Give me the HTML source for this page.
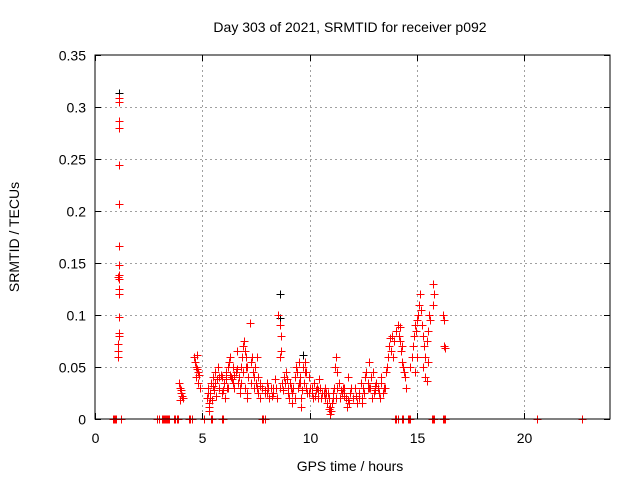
<!DOCTYPE html>
<html><head><meta charset="utf-8"><style>
body{margin:0;background:#fff;}
svg text{font-family:"Liberation Sans",sans-serif;font-size:14px;fill:#000;}
</style></head><body>
<svg id="chart" width="640" height="480" xmlns="http://www.w3.org/2000/svg">
<rect width="640" height="480" fill="#fff"/>
<g id="grid"></g>
<g id="blackpts"></g>
<g id="redpts"></g>
<rect x="95" y="55" width="515" height="364" fill="none" stroke="#000" stroke-width="1"/>
<g id="ticks"></g>
<text x="350" y="32" text-anchor="middle">Day 303 of 2021, SRMTID for receiver p092</text>
<text x="350" y="471" text-anchor="middle">GPS time / hours</text>
<text x="19" y="237" text-anchor="middle" transform="rotate(-90 19 237)">SRMTID / TECUs</text>
</svg>
<script>
const xTicks=[0,5,10,15,20];
const yTicks=[0,0.05,0.1,0.15,0.2,0.25,0.3,0.35];
const yTickLabels=["0","0.05","0.1","0.15","0.2","0.25","0.3","0.35"];
const redT=[0.85,0.9,0.95,1.0,1.2,2.9,3.0,3.1,3.15,3.2,3.25,3.3,3.35,3.4,3.45,3.7,3.75,3.8,3.85,4.4,4.45,4.5,5.1,5.4,5.45,5.9,5.95,7.8,7.85,7.9,14.0,14.05,14.1,14.3,14.35,14.6,14.65,14.7,15.7,15.75,15.8,16.2,16.25,16.3,20.6,22.7,
1.1,1.1,1.1,1.1,1.1,1.1,1.1,1.1,1.1,1.1,1.1,1.1,1.1,1.1,1.1,1.05,1.05,1.05,1.05,
3.9,3.95,4.0,4.0,4.05,4.1,3.95,
4.6,4.65,4.7,4.75,4.8,4.85,4.7,4.8,4.9,4.75,
5.2,5.25,5.3,5.35,5.4,5.45,5.5,5.55,5.6,5.3,
5.7,5.75,5.8,5.85,5.9,6.0,6.05,6.1,6.15,6.2,
6.25,6.3,6.35,6.4,6.45,6.5,6.55,6.6,6.65,6.7,6.75,6.8,
6.85,6.9,6.95,7.0,7.05,7.1,7.15,7.2,7.25,7.3,7.35,7.4,7.0,7.1,
7.5,7.6,7.7,7.8,7.9,8.0,8.1,8.2,8.3,8.4,8.5,7.6,7.45,7.55,
8.55,8.6,8.65,8.6,8.65,8.7,8.75,8.8,8.6,
8.9,9.0,9.05,9.1,9.2,9.3,9.35,9.4,9.45,9.5,9.55,9.6,9.7,9.75,9.8,9.85,9.9,9.95,9.2,9.6,
10.0,10.1,10.2,10.3,10.4,10.45,10.5,10.6,10.7,10.8,10.9,10.95,11.0,10.85,10.7,
11.05,11.1,11.15,11.2,11.25,11.3,11.35,11.4,11.5,11.6,11.7,11.8,11.9,12.0,12.1,12.2,12.3,12.4,12.5,12.6,12.65,12.7,12.8,12.9,13.0,13.1,13.2,13.3,13.4,12.45,11.75,12.75,12.95,13.35,
13.5,13.55,13.6,13.65,13.7,13.75,13.8,13.85,13.9,13.95,
14.05,14.1,14.15,14.2,14.25,14.3,14.35,14.4,14.45,14.5,14.3,14.2,
14.7,14.75,14.8,14.85,14.9,14.95,15.0,15.05,15.1,15.15,15.2,15.25,15.3,15.35,15.4,15.45,15.5,15.55,15.6,15.4,15.45,15.3,15.5,15.0,14.9,
15.75,15.8,15.75,16.2,16.25,16.25,16.3,
5.25,5.35,5.5,5.65,5.8,5.95,6.1,6.3,6.45,6.6,6.75,6.9,7.05,7.25,7.4,7.55,7.7,7.9,8.05,8.25,8.45,8.85,9.0,9.15,9.3,9.5,9.65,9.8,9.95,10.1,10.25,10.4,10.55,10.75,10.9,11.1,11.3,11.45,11.6,11.8,11.95,12.15,12.3,12.55,12.7,12.85,13.05,13.25,13.45,
5.3,5.6,5.9,6.2,6.5,6.8,7.1,7.4,7.7,8.0,8.3,8.95,9.25,9.55,9.85,10.15,10.35,10.65,10.95,11.25,11.55,11.85,12.15,12.45,12.75,13.05,13.35];
const redV=[0,0,0,0,0,0,0,0,0,0,0,0,0,0,0,0,0,0,0,0,0,0,0,0,0,0,0,0,0,0,0,0,0,0,0,0,0,0,0,0,0,0,0,0,0,0,
0.309,0.305,0.287,0.28,0.244,0.207,0.166,0.148,0.138,0.135,0.125,0.12,0.098,0.083,0.08,0.072,0.065,0.06,0.137,
0.035,0.03,0.028,0.025,0.022,0.02,0.018,
0.06,0.055,0.05,0.048,0.045,0.042,0.04,0.035,0.03,0.062,
0.02,0.03,0.012,0.025,0.035,0.018,0.04,0.028,0.045,0.008,
0.038,0.05,0.03,0.042,0.025,0.035,0.02,0.045,0.03,0.05,
0.055,0.06,0.04,0.038,0.05,0.03,0.045,0.065,0.035,0.04,0.025,0.05,
0.06,0.07,0.075,0.065,0.06,0.05,0.04,0.092,0.055,0.06,0.045,0.03,0.03,0.025,
0.035,0.025,0.02,0.03,0.028,0.035,0.02,0.03,0.025,0.038,0.02,0.04,0.05,0.06,
0.1,0.09,0.08,0.06,0.065,0.035,0.028,0.04,0.03,
0.045,0.03,0.02,0.035,0.025,0.04,0.05,0.045,0.03,0.055,0.04,0.02,0.05,0.035,0.055,0.03,0.025,0.04,0.015,0.012,
0.03,0.025,0.035,0.028,0.02,0.038,0.03,0.025,0.02,0.015,0.01,0.005,0.008,0.025,0.03,
0.015,0.02,0.03,0.05,0.06,0.045,0.035,0.02,0.025,0.03,0.02,0.04,0.025,0.02,0.03,0.015,0.025,0.035,0.03,0.04,0.045,0.035,0.03,0.02,0.025,0.035,0.03,0.02,0.025,0.015,0.012,0.055,0.045,0.04,
0.03,0.045,0.05,0.06,0.07,0.078,0.065,0.08,0.06,0.075,
0.085,0.09,0.08,0.075,0.065,0.055,0.05,0.045,0.04,0.03,0.07,0.088,
0.05,0.06,0.07,0.08,0.09,0.085,0.095,0.1,0.11,0.12,0.105,0.09,0.08,0.07,0.06,0.075,0.085,0.1,0.095,0.04,0.037,0.05,0.055,0.06,0.045,
0.13,0.12,0.11,0.1,0.095,0.07,0.068,
0.025,0.02,0.032,0.022,0.04,0.028,0.038,0.042,0.035,0.048,0.03,0.045,0.05,0.035,0.04,0.03,0.032,0.025,0.03,0.022,0.03,0.035,0.025,0.03,0.02,0.035,0.028,0.045,0.025,0.03,0.022,0.028,0.02,0.025,0.02,0.025,0.03,0.028,0.022,0.018,0.03,0.022,0.02,0.025,0.03,0.04,0.032,0.025,0.03,
0.015,0.035,0.04,0.03,0.042,0.035,0.02,0.04,0.035,0.025,0.03,0.038,0.03,0.035,0.045,0.02,0.03,0.025,0.012,0.02,0.03,0.015,0.022,0.02,0.03,0.028,0.035];
const blackT=[1.1,8.6,8.6,9.7];
const blackV=[0.313,0.12,0.097,0.062];
const X0=95,X1=610,Y0=419,Y1=55,XMAX=24,YMAX=0.35;
function px(t){return X0+t*(X1-X0)/XMAX;}
function py(v){return Y0-v*(Y0-Y1)/YMAX;}
const NS="http://www.w3.org/2000/svg";
const grid=document.getElementById('grid'),ticks=document.getElementById('ticks');
function line(g,x1,y1,x2,y2,st,dash){const l=document.createElementNS(NS,'line');l.setAttribute('x1',x1);l.setAttribute('y1',y1);l.setAttribute('x2',x2);l.setAttribute('y2',y2);l.setAttribute('stroke',st);if(dash)l.setAttribute('stroke-dasharray',dash);g.appendChild(l);return l;}
xTicks.forEach(t=>{const x=Math.round(px(t))+0.5;
 if(t>0){const gl=line(grid,x,Y1,x,Y0,'#a0a0a0','2,3');
 
 }
 line(ticks,x,Y0,x,Y0-6,'#000');line(ticks,x,Y1,x,Y1+6,'#000');
 const tx=document.createElementNS(NS,'text');tx.setAttribute('x',x);tx.setAttribute('y',Y0+24);tx.setAttribute('text-anchor','middle');tx.textContent=String(t);
 
 
 ticks.appendChild(tx);});
yTicks.forEach((v,i)=>{const y=Math.round(py(v))+0.5;
 if(v>0&&v<YMAX){const gl=line(grid,X0,y,X1,y,'#a0a0a0','2,3');
 
 }
 line(ticks,X0,y,X0+6,y,'#000');line(ticks,X1,y,X1-6,y,'#000');
 const tx=document.createElementNS(NS,'text');tx.setAttribute('x',X0-9);tx.setAttribute('y',y+5);tx.setAttribute('text-anchor','end');tx.textContent=yTickLabels[i];
 
 
 ticks.appendChild(tx);});
function plus(g,t,v,col){const x=Math.round(px(t))+0.5,y=Math.round(py(v))+0.5;
 const p=document.createElementNS(NS,'path');p.setAttribute('d',`M${x-4} ${y}H${x+4}M${x} ${y-4}V${y+4}`);p.setAttribute('stroke',col);p.setAttribute('fill','none');
 
 
 g.appendChild(p);}
const bg=document.getElementById('blackpts'),rg=document.getElementById('redpts');
blackT.forEach((t,i)=>plus(bg,t,blackV[i],'#000'));
redT.forEach((t,i)=>plus(rg,t,redV[i],'#ff0000'));
</script>
</body></html>
